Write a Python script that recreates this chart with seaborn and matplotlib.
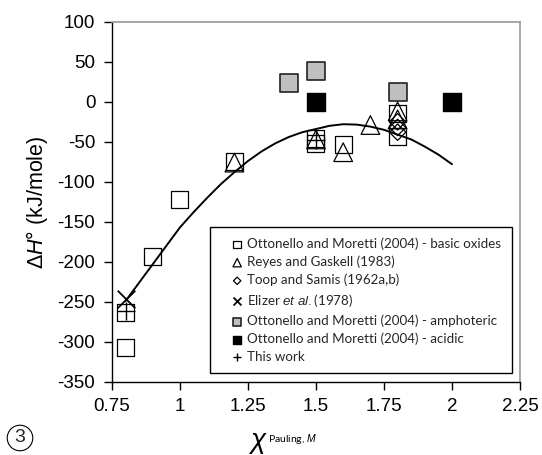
import matplotlib
matplotlib.use("Agg")
import matplotlib.pyplot as plt
import seaborn as sns
import numpy as np

sns.set_theme(style="white")
plt.rcParams['font.family'] = ['Liberation Sans', 'DejaVu Sans']
plt.rcParams['mathtext.fontset'] = 'custom'
plt.rcParams['mathtext.rm'] = 'Liberation Sans'
plt.rcParams['mathtext.it'] = 'Liberation Sans:italic'
plt.rcParams['axes.unicode_minus'] = False

# ---- data ----
basic_x = [0.8, 0.8, 0.9, 1.0, 1.2, 1.5, 1.5, 1.6, 1.8, 1.8]
basic_y = [-307, -263, -193, -122, -75, -46, -52, -53, -15, -43]
reyes_x = [1.2, 1.5, 1.6, 1.7, 1.8, 1.8]
reyes_y = [-76, -47, -63, -29, -12, -22]
toop_x = [1.8, 1.8, 1.8]
toop_y = [-25, -32, -38]
elizer_x = [0.8]
elizer_y = [-247]
amph_x = [1.4, 1.5, 1.8]
amph_y = [23, 39, 12]
acid_x = [1.5, 2.0]
acid_y = [0, 0]
this_x = [0.8, 1.5]
this_y = [-262, -48]
fit_x = [0.80, 0.85, 0.90, 0.95, 1.00, 1.05, 1.10, 1.15, 1.20, 1.25, 1.30, 1.35, 1.40,
         1.45, 1.50, 1.55, 1.60, 1.65, 1.70, 1.75, 1.80, 1.85, 1.90, 1.95, 2.00]
fit_y = [-249, -226, -203, -180, -157, -138, -120, -103, -88, -74, -62, -52, -44,
         -38, -34, -30, -28, -28.5, -31, -35, -41, -47, -56, -66, -78]

labels = [
    "Ottonello and Moretti (2004) - basic oxides",
    "Reyes and Gaskell (1983)",
    "Toop and Samis (1962a,b)",
    r"Elizer $\mathit{et\ al.}$(1978)",
    "Ottonello and Moretti (2004) - amphoteric",
    "Ottonello and Moretti (2004) - acidic",
    "This work",
]
x_ticks = [0.75, 1, 1.25, 1.5, 1.75, 2, 2.25]
x_ticklabels = ["0.75", "1", "1.25", "1.5", "1.75", "2", "2.25"]
y_ticks = [100, 50, 0, -50, -100, -150, -200, -250, -300, -350]

fig = plt.figure(figsize=(5.42, 4.55), dpi=100)
ax = fig.add_axes([0.2066, 0.161, 0.7528, 0.791])

sns.lineplot(x=fit_x, y=fit_y, ax=ax, color="black", linewidth=1.4, zorder=1, legend=False)

lw = 0.9
sns.scatterplot(x=basic_x, y=basic_y, ax=ax, marker="s", s=150, facecolor="none",
                edgecolor="black", linewidth=lw, label=labels[0], zorder=3)
sns.scatterplot(x=reyes_x, y=reyes_y, ax=ax, marker="^", s=180, facecolor="none",
                edgecolor="black", linewidth=lw, label=labels[1], zorder=3)
sns.scatterplot(x=toop_x, y=toop_y, ax=ax, marker="D", s=70, facecolor="none",
                edgecolor="black", linewidth=lw, label=labels[2], zorder=3)
sns.scatterplot(x=elizer_x, y=elizer_y, ax=ax, marker="x", s=160, color="black",
                linewidth=1.3, label=labels[3], zorder=3)
sns.scatterplot(x=amph_x, y=amph_y, ax=ax, marker="s", s=150, facecolor="#bfbfbf",
                edgecolor="#222222", linewidth=1.2, label=labels[4], zorder=3)
sns.scatterplot(x=acid_x, y=acid_y, ax=ax, marker="s", s=150, facecolor="black",
                edgecolor="black", linewidth=1.0, label=labels[5], zorder=3)
sns.scatterplot(x=this_x, y=this_y, ax=ax, marker="+", s=150, color="black",
                linewidth=1.0, label=labels[6], zorder=4)

ax.set_xlim(0.75, 2.25)
ax.set_ylim(-350, 100)
ax.set_xticks(x_ticks)
ax.set_xticklabels(x_ticklabels)
ax.set_yticks(y_ticks)
ax.tick_params(axis="both", which="major", direction="out", length=6, width=1.0,
               color="black", labelsize=13.5, labelcolor="black", pad=6,
               bottom=True, left=True)
for side in ["left", "bottom"]:
    ax.spines[side].set_color("black")
    ax.spines[side].set_linewidth(1.0)
for side in ["top", "right"]:
    ax.spines[side].set_color("#a0a0a0")
    ax.spines[side].set_linewidth(1.3)
ax.set_xlabel("")
ax.set_ylabel(r"Δ$\mathit{H}$° (kJ/mole)", fontsize=15.5, color="black", labelpad=5)

leg = ax.legend(loc="lower right", bbox_to_anchor=(0.98, 0.023), borderaxespad=0,
                frameon=True, fancybox=False, markerscale=0.45,
                prop={"family": "Lato", "size": 9.6},
                handlelength=2.5, handletextpad=-0.5, borderpad=0.8,
                labelspacing=0.42, scatterpoints=1)
leg.get_frame().set_edgecolor("black")
leg.get_frame().set_linewidth(1.0)
leg.get_frame().set_alpha(1)

fig.text(250 / 542, 1 - 441 / 455, "χ", fontsize=20, style="italic",
         ha="left", va="center", color="black")
fig.text(268 / 542, 1 - 439 / 455, r"Pauling, $\mathit{M}$", fontsize=7.5,
         family="Lato", ha="left", va="center", color="black")
fig.text(20 / 542, 1 - 438 / 455, "3", fontsize=14, ha="center", va="center",
         bbox=dict(boxstyle="circle,pad=0.22", fc="none", ec="black", lw=0.8))

fig.savefig("out.png", dpi=100, facecolor="white")
